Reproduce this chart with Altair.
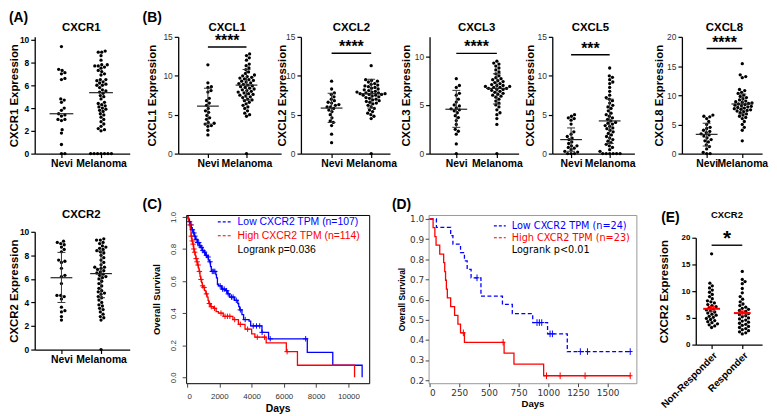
import altair as alt
import pandas as pd

FONT = "Liberation Sans"
MPL = "DejaVu Sans"

# ---------------------------------------------------------------- data
GROUPS_AB = ["Nevi", "Melanoma"]
GROUPS_E = ["Non-Responder", "Responder"]

# (A) CXCR1
CXCR1_NEVI = [9.4, 7.4, 7.3, 7.1, 7.0, 6.6, 6.5, 4.8, 4.7, 4.5, 4.0, 3.8, 3.5, 3.4, 3.3,
              3.0, 3.0, 2.9, 2.1, 1.8, 0.8, 0.0, 0.0]
CXCR1_MEL = [9.0, 8.9, 8.9, 8.6, 8.2, 7.8, 7.8, 7.7, 7.7, 7.6, 7.5, 7.3, 7.2, 7.0, 6.9,
             6.5, 6.5, 6.4, 6.3, 6.2, 6.1, 6.0, 6.0, 5.8, 5.6, 5.5, 5.4, 5.3, 5.1, 5.0,
             4.8, 4.5, 4.4, 4.3, 4.2, 4.1, 4.0, 3.9, 3.8, 3.7, 3.5, 3.4, 3.2, 3.0, 2.8,
             2.6, 2.4, 2.2, 2.1, 2.0, 0.0, 0.0, 0.0, 0.0, 0.0, 0.0, 0.0]
CXCR1_MEDIAN = [3.5, 5.35]

# (A) CXCR2
CXCR2_NEVI = [9.2, 9.1, 9.0, 8.9, 8.7, 8.5, 8.3, 7.6, 7.5, 7.4, 6.9, 6.3, 6.2, 5.6, 4.6,
              4.6, 4.5, 4.3, 3.6, 3.3, 3.2, 2.8, 2.5]
CXCR2_MEL = [9.4, 9.3, 9.3, 9.1, 9.0, 8.8, 8.7, 8.6, 8.5, 8.4, 8.3, 8.2, 8.0, 7.8, 7.6,
             7.4, 7.2, 7.0, 7.0, 6.9, 6.8, 6.7, 6.6, 6.5, 6.4, 6.3, 6.2, 6.1, 6.0, 5.8,
             5.6, 5.4, 5.2, 5.0, 4.9, 4.8, 4.7, 4.5, 4.4, 4.2, 4.0, 3.8, 3.7, 3.5, 3.4,
             3.2, 3.0, 2.8, 2.7, 2.5, 0.0]
CXCR2_MEAN = [6.1, 6.45]
CXCR2_LO = [4.0, 4.4]
CXCR2_HI = [8.25, 8.35]

# (B) CXCL1
CXCL1_NEVI = [11.4, 9.1, 8.6, 8.5, 8.1, 7.9, 7.1, 6.8, 6.5, 6.2, 5.8, 5.5, 5.3, 4.9, 4.6,
              4.4, 4.0, 3.9, 3.8, 3.6, 3.5, 3.0, 2.4]
CXCL1_MEL = [12.8, 12.6, 12.3, 12.0, 11.5, 11.3, 11.0, 10.8, 10.5, 10.3, 10.1, 10.0, 9.9,
             9.8, 9.7, 9.6, 9.5, 9.4, 9.3, 9.2, 9.1, 9.0, 8.9, 8.8, 8.7, 8.6, 8.5, 8.4,
             8.3, 8.2, 8.1, 8.0, 7.9, 7.8, 7.7, 7.6, 7.5, 7.4, 7.3, 7.2, 7.0, 6.9, 6.8,
             6.6, 6.4, 6.2, 6.0, 5.8, 5.5, 5.2, 5.0, 4.8, 0.0]
CXCL1_MEAN = [6.1, 8.8]
CXCL1_LO = [3.8, 6.9]
CXCL1_HI = [8.4, 10.8]
CXCL1_SIG = [13.7, "****"]

# (B) CXCL2
CXCL2_NEVI = [9.3, 8.3, 7.8, 7.6, 7.3, 7.0, 6.8, 6.6, 6.5, 6.3, 6.2, 6.0, 6.0, 5.8, 5.6,
              5.4, 5.0, 4.6, 4.2, 4.0, 3.6, 2.5, 1.4]
CXCL2_MEL = [11.3, 9.5, 9.4, 9.3, 9.2, 9.0, 8.9, 8.8, 8.7, 8.6, 8.5, 8.4, 8.3, 8.2, 8.1,
             8.0, 7.9, 7.9, 7.8, 7.8, 7.7, 7.7, 7.6, 7.6, 7.5, 7.5, 7.4, 7.3, 7.2, 7.1,
             7.0, 6.9, 6.8, 6.7, 6.6, 6.5, 6.4, 6.2, 6.0, 5.8, 5.6, 5.4, 5.2, 5.0, 4.8,
             4.5, 0.0]
CXCL2_MEAN = [5.85, 7.7]
CXCL2_LO = [4.0, 5.85]
CXCL2_HI = [7.75, 9.55]
CXCL2_SIG = [12.9, "****"]

# (B) CXCL3
CXCL3_NEVI = [7.7, 7.0, 6.8, 6.2, 6.0, 5.6, 5.3, 5.0, 4.9, 4.7, 4.6, 4.5, 4.4, 4.2, 3.9,
              3.7, 3.4, 3.0, 2.5, 2.3, 2.0, 1.0, 0.0]
CXCL3_MEL = [9.5, 9.3, 9.2, 9.0, 8.8, 8.6, 8.4, 8.2, 8.0, 7.8, 7.7, 7.6, 7.5, 7.4, 7.3,
             7.2, 7.1, 7.0, 7.0, 6.9, 6.9, 6.8, 6.8, 6.7, 6.7, 6.6, 6.6, 6.5, 6.4, 6.3,
             6.2, 6.1, 6.0, 5.9, 5.8, 5.6, 5.4, 5.2, 5.0, 4.8, 4.5, 4.2, 4.0, 3.6, 3.0,
             0.0]
CXCL3_MEAN = [4.56, 6.7]
CXCL3_LO = [2.7, 5.1]
CXCL3_HI = [6.5, 8.2]
CXCL3_SIG = [10.3, "****"]

# (B) CXCL5
CXCL5_NEVI = [5.0, 4.8, 4.6, 4.5, 4.3, 3.8, 2.8, 2.5, 2.2, 2.0, 1.8, 1.5, 1.3, 1.0, 1.0,
              0.8, 0.7, 0.5, 0.3, 0.2, 0.0, 0.0, 0.0]
CXCL5_MEL = [11.0, 10.0, 9.8, 9.5, 9.2, 9.0, 8.5, 8.0, 7.5, 7.2, 7.0, 6.8, 6.5, 6.2, 6.0,
             5.8, 5.5, 5.2, 5.0, 4.8, 4.6, 4.4, 4.2, 4.0, 3.9, 3.8, 3.6, 3.5, 3.3, 3.2,
             3.0, 2.8, 2.6, 2.4, 2.2, 2.0, 1.8, 1.6, 1.4, 1.2, 1.0, 0.8, 0.5, 0.3, 0.0,
             0.0, 0.0, 0.0, 0.0, 0.0]
CXCL5_MEAN = [1.8, 4.2]
CXCL5_LO = [0.3, 1.3]
CXCL5_HI = [3.3, 7.0]
CXCL5_SIG = [12.7, "***"]

# (B) CXCL8
CXCL8_NEVI = [6.6, 6.4, 6.3, 6.0, 5.5, 5.0, 4.5, 4.3, 4.0, 3.8, 3.6, 3.4, 3.2, 3.0, 2.7,
              2.4, 2.2, 2.0, 1.5, 1.2, 0.8, 0.2, 0.0, 0.0]
CXCL8_MEL = [15.4, 13.5, 13.2, 13.0, 11.0, 10.8, 10.5, 10.3, 10.0, 9.8, 9.6, 9.4, 9.2,
             9.0, 8.9, 8.8, 8.7, 8.6, 8.5, 8.4, 8.3, 8.2, 8.1, 8.0, 7.9, 7.8, 7.7, 7.6,
             7.5, 7.4, 7.3, 7.2, 7.0, 6.8, 6.6, 6.4, 6.2, 6.0, 5.5, 5.0, 4.5, 4.0, 2.2]
CXCL8_MEAN = [3.3, 8.5]
CXCL8_LO = [1.3, 6.8]
CXCL8_HI = [5.2, 10.2]
CXCL8_SIG = [18.0, "****"]

# (C) TCGA Kaplan-Meier
C_LABELS = ["Low CXCR2 TPM (n=107)", "High CXCR2 TPM (n=114)", "Logrank p=0.036"]
C_LOW_T = [0, 60, 120, 200, 260, 300, 380, 440, 520, 640, 760, 840, 950, 1040, 1150, 1240,
           1320, 1380, 1450, 1500, 1780, 1820, 1880, 1950, 2140, 2380, 2500, 2640, 2940,
           3140, 3200, 3260, 3400, 3500, 3840, 3940, 4640, 5050, 7450, 9030, 10850]
C_LOW_S = [1.0, 0.99, 0.97, 0.95, 0.93, 0.92, 0.90, 0.88, 0.86, 0.84, 0.82, 0.81, 0.79,
           0.78, 0.76, 0.75, 0.73, 0.72, 0.69, 0.66, 0.64, 0.62, 0.58, 0.57, 0.55, 0.54,
           0.52, 0.50, 0.48, 0.46, 0.44, 0.42, 0.39, 0.36, 0.35, 0.32, 0.28, 0.24, 0.155,
           0.075, 0.0]
C_HIGH_T = [0, 80, 150, 200, 240, 290, 340, 400, 440, 500, 540, 600, 640, 700, 740, 800,
            840, 900, 940, 1000, 1080, 1160, 1240, 1300, 1340, 1440, 1640, 1800, 1940,
            2240, 2840, 3180, 3590, 4000, 4200, 4900, 6150, 6840, 10380]
C_HIGH_S = [1.0, 0.98, 0.95, 0.92, 0.88, 0.85, 0.83, 0.80, 0.78, 0.76, 0.74, 0.72, 0.70,
            0.68, 0.66, 0.63, 0.61, 0.59, 0.57, 0.56, 0.54, 0.52, 0.50, 0.48, 0.46, 0.44,
            0.43, 0.41, 0.40, 0.38, 0.36, 0.33, 0.30, 0.27, 0.25, 0.215, 0.16, 0.075, 0.0]
C_LOW_CENS = [150, 250, 330, 420, 480, 560, 650, 720, 800, 880, 980, 1080, 1200, 1300,
              1420, 1560, 1650, 1720, 2050, 2200, 2300, 2450, 2550, 2750, 2850, 3050,
              3300, 3600, 4100, 4300, 4500, 4650, 5150, 7350]
C_HIGH_CENS = [180, 260, 320, 370, 420, 470, 560, 620, 680, 760, 860, 960, 1050, 1200,
               1380, 1500, 1700, 2100, 2350, 2500, 2650, 2950, 3300, 3750, 4350, 4800, 6200]

# (D) immunotherapy cohort Kaplan-Meier
D_LABELS = ["Low CXCR2 TPM (n=24)", "High CXCR2 TPM (n=23)", "Logrank p<0.01"]
D_LOW_T = [0, 58, 178, 197, 261, 294, 317, 350, 433, 614, 697, 869, 994, 1160, 1690]
D_LOW_S = [1.0, 0.958, 0.917, 0.875, 0.833, 0.792, 0.75, 0.708, 0.617, 0.576, 0.53,
           0.486, 0.43, 0.342, 0.342]
D_HIGH_T = [0, 30, 45, 55, 86, 119, 128, 135, 142, 150, 178, 211, 239, 261, 294, 628,
            711, 961, 1690]
D_HIGH_S = [1.0, 0.957, 0.913, 0.870, 0.826, 0.783, 0.739, 0.696, 0.652, 0.609, 0.565,
            0.522, 0.478, 0.435, 0.388, 0.334, 0.28, 0.222, 0.222]
D_LOW_CENS = [400, 905, 925, 945, 1015, 1035, 1270, 1330, 1690]
D_HIGH_CENS = [285, 620, 985, 1100, 1310, 1690]

# (E) CXCR2 in responders
E_NR = [17.0, 11.5, 11.0, 10.6, 10.2, 9.8, 9.4, 9.0, 8.6, 8.2, 8.0, 7.8, 7.5, 7.3, 7.1,
        6.9, 6.7, 6.5, 6.3, 6.1, 5.9, 5.7, 5.5, 5.3, 5.1, 4.9, 4.7, 4.5, 4.3, 4.1, 3.9,
        3.7, 3.5, 3.2]
E_R = [13.7, 12.2, 11.8, 11.4, 10.5, 9.7, 9.0, 8.5, 8.0, 7.6, 7.3, 7.0, 6.8, 6.6, 6.4,
       6.2, 6.0, 5.8, 5.6, 5.4, 5.2, 5.0, 4.8, 4.6, 4.4, 4.2, 4.0, 3.8, 3.6, 3.4, 3.2,
       3.0, 2.8, 2.6, 2.4, 2.2, 2.0]
E_MEAN = [6.7, 5.9]
E_LO = [6.25, 5.5]
E_HI = [7.15, 6.3]
E_SIG = [18.6, "*"]

DUMMY = pd.DataFrame({"a": [0]})


# ---------------------------------------------------------------- helpers
def swarm(vals, ppu, d=3.5, step=0.35):
    """Deterministic beeswarm offsets (pixels) so dots do not overlap."""
    order = sorted(range(len(vals)), key=lambda i: vals[i])
    placed, offs = [], [0.0] * len(vals)
    for i in order:
        y = vals[i] * ppu
        k = 0
        while True:
            m = (k + 1) // 2
            c = 0.0 if k == 0 else (m * step if k % 2 else -m * step)
            if all((c - px) ** 2 + (y - py) ** 2 >= d * d for px, py in placed):
                break
            k += 1
        offs[i] = c
        placed.append((c, y))
    return offs


def label_text(text, x, y, size, align="center"):
    return alt.Chart(pd.DataFrame({"t": [text]})).mark_text(
        font=FONT, fontSize=size, fontWeight="bold", color="black", align=align,
        baseline="middle").encode(x=alt.value(x), y=alt.value(y), text="t:N")


def spacer(w, h, label=None, lx=0, ly=0):
    if label:
        return label_text(label, lx, ly, 14, "left").properties(width=w, height=h)
    return alt.Chart(DUMMY).mark_point(size=1, opacity=0).encode(
        x=alt.value(w / 2), y=alt.value(h / 2)).properties(width=w, height=h)


def dot_panel(title, ytitle, cats, series, width, cat_px, ydom, yticks, height,
              yrange=None, center=None, lo=None, hi=None, sig=None, title_x=-22,
              title_y=-9, title_size=11.5, tick_bold=False, tick_font=8.5,
              label_size=10.5, label_angle=0, center_color="#222", center_half=11,
              center_width=1.2, err_color="#333", cap_half=4, star_size=16, star_dy=-1,
              ytitle_size=11.5):
    unit = cat_px[1] - cat_px[0]
    xdom = [-cat_px[0] / unit, (width - cat_px[0]) / unit]
    yr = yrange if yrange else [height, 0]
    ppu = (yr[0] - yr[1]) / (ydom[1] - ydom[0])
    rows = []
    for g, vals in enumerate(series):
        for v, o in zip(vals, swarm(vals, ppu)):
            rows.append({"x": g + o / unit, "y": v})
    pts = pd.DataFrame(rows)

    lab = f"datum.value < 0.5 ? '{cats[0]}' : '{cats[1]}'"
    xaxis_kw = dict(values=[0, 1], labelExpr=lab, title=None, domainColor="black",
                    domainWidth=1.3, tickColor="black", tickSize=4, tickWidth=1.2,
                    labelFont=FONT, labelFontSize=label_size, labelFontWeight="bold",
                    labelColor="black", labelPadding=1.5, grid=False)
    if label_angle:
        xaxis_kw.update(labelAngle=label_angle, labelAlign="right", labelBaseline="top")
    xaxis = alt.Axis(**xaxis_kw)
    yaxis = alt.Axis(values=yticks, title=ytitle, titleFont=FONT, titleFontSize=ytitle_size,
                     titleFontWeight="bold", titleColor="black", titleX=title_x,
                     titleBaseline="middle", labelFont=FONT, labelFontSize=tick_font,
                     labelFontWeight="bold" if tick_bold else "normal",
                     labelColor="black" if tick_bold else "#333", labelPadding=2,
                     domainColor="black", domainWidth=1.3, tickColor="black", tickSize=4,
                     tickWidth=1.2, grid=False)
    X = alt.X("x:Q", scale=alt.Scale(domain=xdom, nice=False, zero=False), axis=xaxis)
    Y = alt.Y("y:Q", scale=alt.Scale(domain=ydom, range=yr, nice=False, zero=False),
              axis=yaxis)

    layers = [alt.Chart(pts).mark_circle(size=11, color="black", opacity=1).encode(x=X, y=Y)]
    ch = center_half / unit
    cen = pd.DataFrame({"x": [g - ch for g in (0, 1)], "x2": [g + ch for g in (0, 1)],
                        "y": center})
    layers.append(alt.Chart(cen).mark_rule(color=center_color, strokeWidth=center_width)
                  .encode(x=X, x2="x2:Q", y=Y))
    if lo is not None:
        err = pd.DataFrame({"x": [0, 1], "y": lo, "y2": hi})
        layers.append(alt.Chart(err).mark_rule(color=err_color, strokeWidth=1)
                      .encode(x=X, y=Y, y2="y2:Q"))
        cw = cap_half / unit
        caps = pd.DataFrame({"x": [g - cw for g in (0, 1, 0, 1)],
                             "x2": [g + cw for g in (0, 1, 0, 1)],
                             "y": list(lo) + list(hi)})
        layers.append(alt.Chart(caps).mark_rule(color=err_color, strokeWidth=1)
                      .encode(x=X, x2="x2:Q", y=Y))
    if sig is not None:
        bar = pd.DataFrame({"x": [0], "x2": [1], "y": [sig[0]], "t": [sig[1]]})
        layers.append(alt.Chart(bar).mark_rule(color="black", strokeWidth=1.4)
                      .encode(x=X, x2="x2:Q", y=Y))
        star = pd.DataFrame({"x": [0.5], "y": [sig[0]], "t": [sig[1]]})
        layers.append(alt.Chart(star).mark_text(font=FONT, fontSize=star_size,
                                                fontWeight="bold", color="black",
                                                baseline="alphabetic", dy=star_dy)
                      .encode(x=X, y=Y, text="t:N"))
    layers.append(label_text(title, (cat_px[0] + cat_px[1]) / 2, title_y, title_size))
    return alt.layer(*layers).properties(width=width, height=height)


def km_panel(low_t, low_s, high_t, high_s, low_c, high_c, labels, width, height, xdom,
             ydom, xticks, yticks, tick_font, tick_size, rotate_y, legend_x, legend_y,
             legend_font, legend_size, sym_size, box_color, low_dash, title_x, days_y,
             ytitle_size, days_size, cross, cross_size, xpad, ypad, tick_len):
    low, high, note = labels

    def steps(t, s, name):
        return pd.DataFrame({"t": t, "s": s, "series": name})

    def cens(c, t, s, name):
        ys = [s[max(i for i in range(len(t)) if t[i] <= ci)] for ci in c]
        return pd.DataFrame({"t": c, "s": ys, "series": name})

    xaxis = alt.Axis(values=xticks, format="d", title="Days", titleFont=FONT,
                     titleFontSize=days_size, titleFontWeight="bold", titleColor="black",
                     titleY=days_y, titleBaseline="middle", labelFont=tick_font,
                     labelFontSize=tick_size, labelColor="#333", labelPadding=xpad,
                     domain=False, tickColor="#444", tickSize=tick_len, grid=False)
    ykw = dict(values=yticks, format=".1f", title="Overall Survival", titleFont=FONT,
               titleFontSize=ytitle_size, titleFontWeight="bold", titleColor="black",
               titleX=title_x, titleBaseline="middle", labelFont=tick_font,
               labelFontSize=tick_size, labelColor="#333", labelPadding=ypad,
               domain=False, tickColor="#444", tickSize=tick_len, grid=False)
    if rotate_y:
        ykw.update(labelAngle=270, labelAlign="center", labelBaseline="bottom")
    X = alt.X("t:Q", scale=alt.Scale(domain=xdom, nice=False, zero=False), axis=xaxis)
    Y = alt.Y("s:Q", scale=alt.Scale(domain=ydom, nice=False, zero=False),
              axis=alt.Axis(**ykw))
    lab_expr = (f"datum.label == '{low}' ? 'blue' : "
                f"(datum.label == '{high}' ? 'red' : 'black')")
    legend = alt.Legend(title=None, orient="none", legendX=legend_x, legendY=legend_y,
                        direction="vertical", symbolType="stroke", symbolDash=[3, 2],
                        symbolStrokeWidth=1.2, symbolSize=sym_size, labelFont=legend_font,
                        labelFontSize=legend_size, labelColor={"expr": lab_expr},
                        labelOffset=5, rowPadding=0, padding=0, labelLimit=400)
    cscale = alt.Scale(domain=[low, high, note], range=["blue", "red", "transparent"])
    color = alt.Color("series:N", scale=cscale, legend=legend)
    low_kw = dict(interpolate="step-after", strokeWidth=1.3)
    if low_dash:
        low_kw["strokeDash"] = low_dash
    low_line = alt.Chart(steps(low_t, low_s, low)).mark_line(**low_kw).encode(
        x=X, y=Y, color=color)
    high_line = alt.Chart(steps(high_t, high_s, high)).mark_line(
        interpolate="step-after", strokeWidth=1.3).encode(x=X, y=Y, color=color)
    cdf = pd.concat([cens(low_c, low_t, low_s, low), cens(high_c, high_t, high_s, high)])
    marks = alt.Chart(cdf).mark_point(shape=cross, size=cross_size, filled=False,
                                      strokeWidth=1, opacity=1).encode(
        x=X, y=Y, stroke=alt.Stroke("series:N", scale=alt.Scale(
            domain=[low, high], range=["blue", "red"]), legend=None))
    return alt.layer(low_line, high_line, marks).properties(
        width=width, height=height,
        view=alt.ViewBackground(stroke=box_color, strokeWidth=1))


# ---------------------------------------------------------------- panels
H1 = 118
A1 = dot_panel("CXCR1", "CXCR1 Expression", GROUPS_AB, [CXCR1_NEVI, CXCR1_MEL], 96, [27, 67],
               [0, 10.25], [0, 2, 4, 6, 8, 10], H1, center=CXCR1_MEDIAN, title_x=-20,
               tick_bold=True, center_half=12)
B1 = dot_panel("CXCL1", "CXCL1 Expression", GROUPS_AB, [CXCL1_NEVI, CXCL1_MEL], 104, [30, 69],
               [0, 15], [0, 5, 10, 15], H1, center=CXCL1_MEAN, lo=CXCL1_LO, hi=CXCL1_HI,
               sig=CXCL1_SIG, title_x=-26)
B2 = dot_panel("CXCL2", "CXCL2 Expression", GROUPS_AB, [CXCL2_NEVI, CXCL2_MEL], 90, [31, 71],
               [0, 15], [0, 5, 10, 15], H1, center=CXCL2_MEAN, lo=CXCL2_LO, hi=CXCL2_HI,
               sig=CXCL2_SIG, title_x=-19)
B3 = dot_panel("CXCL3", "CXCL3 Expression", GROUPS_AB, [CXCL3_NEVI, CXCL3_MEL], 90, [27, 68],
               [0, 12], [0, 5, 10], H1, center=CXCL3_MEAN, lo=CXCL3_LO, hi=CXCL3_HI,
               sig=CXCL3_SIG, title_x=-23)
B4 = dot_panel("CXCL5", "CXCL5 Expression", GROUPS_AB, [CXCL5_NEVI, CXCL5_MEL], 83, [19, 58],
               [0, 15], [0, 5, 10, 15], H1, center=CXCL5_MEAN, lo=CXCL5_LO, hi=CXCL5_HI,
               sig=CXCL5_SIG, title_x=-22)
B5 = dot_panel("CXCL8", "CXCL8 Expression", GROUPS_AB, [CXCL8_NEVI, CXCL8_MEL], 81, [25, 61],
               [0, 20], [0, 5, 10, 15, 20], H1, center=CXCL8_MEAN, lo=CXCL8_LO,
               hi=CXCL8_HI, sig=CXCL8_SIG, title_x=-23)

H2 = 170
A2 = dot_panel("CXCR2", "CXCR2 Expression", GROUPS_AB, [CXCR2_NEVI, CXCR2_MEL], 96, [27, 67],
               [0, 10], [0, 2, 4, 6, 8, 10], 136, yrange=[136, 17], center=CXCR2_MEAN,
               lo=CXCR2_LO, hi=CXCR2_HI, title_x=-20, tick_bold=True, title_y=0)
C = km_panel(C_LOW_T, C_LOW_S, C_HIGH_T, C_HIGH_S, C_LOW_CENS, C_HIGH_CENS, C_LABELS,
             185, H2, [-61, 11288], [-0.037, 1.012], [0, 2000, 4000, 6000, 8000, 10000],
             [0, 0.2, 0.4, 0.6, 0.8, 1.0], FONT, 8, True, 31, -1, FONT, 10.5, 196,
             "black", None, -30, 26, 9.5, 10.5, "M -1 0 L 1 0 M 0 -1 L 0 1", 30, 5, 5, 4)
D = km_panel(D_LOW_T, D_LOW_S, D_HIGH_T, D_HIGH_S, D_LOW_CENS, D_HIGH_CENS, D_LABELS,
             210, H2, [-8, 1742], [0.185, 1.02], [0, 250, 500, 750, 1000, 1250, 1500],
             [0.2, 0.3, 0.4, 0.5, 0.6, 0.7, 0.8, 0.9, 1.0], MPL, 9, False, 65, 4, MPL, 9.8,
             144, "#999", [4, 2.5], -27, 21, 8.5, 9.7,
             "M -0.7 0 L 0.7 0 M 0 -1 L 0 1", 45, 1.5, 1.5, 3.5)
E = dot_panel("CXCR2", "CXCR2 Expression", GROUPS_E, [E_NR, E_R], 67, [16, 47], [0, 20],
              [0, 5, 10, 15, 20], 131, yrange=[131, 23], center=E_MEAN, lo=E_LO, hi=E_HI,
              sig=E_SIG, title_x=-32, title_y=0, title_size=9.5, tick_bold=True,
              tick_font=8, label_size=10, label_angle=315, center_color="red",
              center_half=8.5, center_width=2, err_color="red", cap_half=3.5, star_size=21,
              star_dy=0, ytitle_size=11.5)

row1 = alt.hconcat(
    spacer(26, H1, "(A)", 0, -19), A1, spacer(49, H1, "(B)", 13, -19), B1, spacer(20, H1),
    B2, spacer(40, H1), B3, spacer(34, H1), B4, spacer(48, H1), B5,
    spacing=0, bounds="flush")
row2 = alt.hconcat(
    spacer(26, H2), A2, spacer(57, H2, "(C)", 13, -10), C, spacer(60, H2, "(D)", 23, -10),
    D, spacer(60, H2, "(E)", 25, 3), E,
    spacing=0, bounds="flush").resolve_scale(color="independent", stroke="independent")

chart = alt.vconcat(row1, row2, spacing=27).resolve_scale(
    color="independent", stroke="independent").properties(
    padding=0, background="white").configure_view(stroke="transparent")

chart.save("out.html", embed_options={"renderer": "svg", "actions": False})
